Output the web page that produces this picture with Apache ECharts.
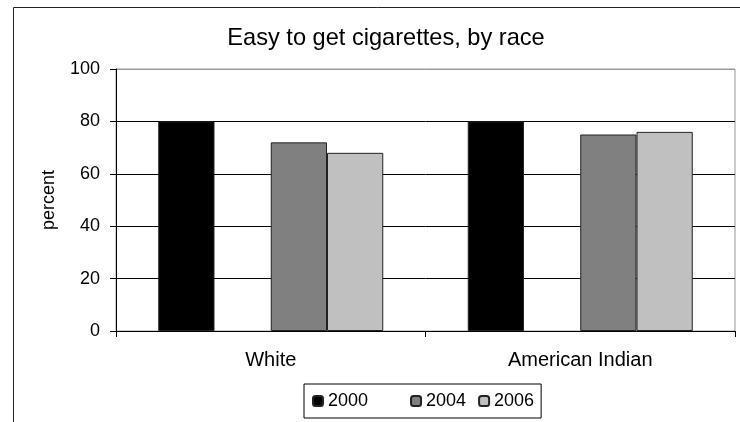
<!DOCTYPE html>
<html>
<head>
<meta charset="utf-8">
<script src="https://cdn.jsdelivr.net/npm/echarts@6/dist/echarts.min.js"></script>
<style>html,body{margin:0;padding:0;background:#fff;}#c{width:740px;height:422px;}</style>
</head>
<body>
<div id="c"></div>
<script>
const categories = ['White', 'American Indian'];
const seriesNames = ['2000', '2004', '2006'];
const values2000 = [80, 80];
const values2004 = [72, 75];
const values2006 = [68, 76];
const yTicks = [0, 20, 40, 60, 80, 100];
const colors = ['#000000', '#808080', '#C0C0C0'];

const font = '"Liberation Sans", Arial, sans-serif';
const chart = echarts.init(document.getElementById('c'), null, {renderer: 'canvas'});

function barSeries(name, data, color) {
  return {
    name: name, type: 'bar', data: data,
    barGap: '0%', barCategoryGap: '27.3%',
    itemStyle: {color: color, borderColor: '#222', borderWidth: 1},
    emphasis: {disabled: true}
  };
}

chart.setOption({
  animation: false,
  backgroundColor: '#fff',
  textStyle: {fontFamily: font},
  title: {
    text: 'Easy to get cigarettes, by race',
    left: 381, top: 21, textAlign: 'center',
    textStyle: {fontFamily: font, fontSize: 23.6, fontWeight: 'normal', color: '#000'}
  },
  graphic: [{
    type: 'rect', silent: true, z: -1,
    shape: {x: 13.5, y: 7.5, width: 760, height: 500},
    style: {fill: 'none', stroke: '#222', lineWidth: 1}
  }],
  legend: {
    data: seriesNames,
    left: 304, top: 384,
    padding: [8, 7, 8, 8],
    itemGap: 12, itemWidth: 10, itemHeight: 10,
    borderColor: '#000', borderWidth: 1,
    selectedMode: false,
    formatter: function (n) { return n === seriesNames[0] ? n + '\u00a0\u00a0\u00a0\u00a0\u00a0\u00a0' : n; },
    textStyle: {fontFamily: font, fontSize: 18, color: '#000'}
  },
  grid: {left: 116, right: 5, top: 69, bottom: 91, show: true, borderColor: '#999', borderWidth: 1, backgroundColor: 'transparent'},
  xAxis: {
    type: 'category', data: categories,
    axisLine: {show: true, lineStyle: {color: '#000', width: 1}},
    axisTick: {show: true, length: 6, inside: false, lineStyle: {color: '#000'}},
    axisLabel: {margin: 19, fontFamily: font, fontSize: 20, color: '#000'},
    splitLine: {show: false}
  },
  yAxis: {
    type: 'value', min: yTicks[0], max: yTicks[yTicks.length - 1], interval: 20,
    name: 'percent', nameLocation: 'middle', nameGap: 58,
    nameTextStyle: {fontFamily: font, fontSize: 18, color: '#000'},
    axisLine: {show: true, lineStyle: {color: '#000', width: 1}},
    axisTick: {show: true, length: 6, inside: false, lineStyle: {color: '#000'}},
    axisLabel: {margin: 16, fontFamily: font, fontSize: 18, color: '#000'},
    splitLine: {show: true, lineStyle: {color: ['#000', '#000', '#000', '#000', '#000', '#999'], width: 1}}
  },
  series: [
    barSeries('2000', values2000, colors[0]),
    barSeries('', [null, null], 'transparent'),
    barSeries('2004', values2004, colors[1]),
    barSeries('2006', values2006, colors[2])
  ]
});
</script>
</body>
</html>
